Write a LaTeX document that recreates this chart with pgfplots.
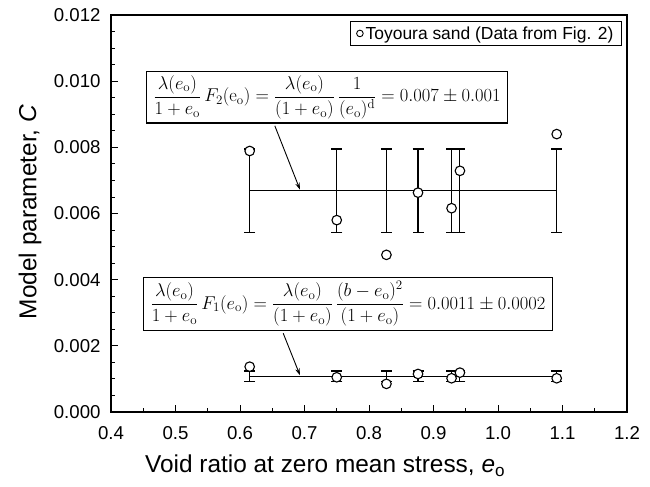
\RequirePackage{fix-cm}
\documentclass[border=0pt]{standalone}
\usepackage{amsmath}
\usepackage[no-math]{fontspec}
\setmainfont{Liberation Sans}
\usepackage{pgfplots}
\pgfplotsset{compat=1.18}
\usetikzlibrary{arrows.meta}

\newcommand{\eo}{e_{\mathrm{o}}}

\begin{document}
\begin{tikzpicture}
\path[use as bounding box] (-111bp,-75bp) rectangle (539bp,412bp);
\begin{axis}[
  at={(0,0)}, anchor=south west,
  scale only axis, width=516bp, height=397bp,
  xmin=0.4, xmax=1.2, ymin=0, ymax=0.012,
  xtick={0.4,0.5,0.6,0.7,0.8,0.9,1.0,1.1,1.2},
  ytick={0,0.002,0.004,0.006,0.008,0.010,0.012},
  minor x tick num=1, minor y tick num=3,
  scaled y ticks=false, scaled x ticks=false,
  tick pos=left, tick align=inside,
  major tick length=7bp, minor tick length=4bp,
  every tick/.style={black, line width=0.9bp},
  axis line style={line width=1.6bp},
  ticklabel style={font=\fontsize{18.7}{22}\selectfont},
  x tick label style={yshift=-11bp, /pgf/number format/.cd, fixed, fixed zerofill, precision=1, assume math mode=true},
  y tick label style={xshift=-7bp, /pgf/number format/.cd, fixed, fixed zerofill, precision=3, assume math mode=true},
  xlabel={Void ratio at zero mean stress, \textit{e}\textsubscript{o}},
  ylabel={Model parameter, \textit{C}},
  label style={font=\fontsize{24.5}{28}\selectfont},
  xlabel style={at={(axis description cs:0.415,-0.135)}, anchor=center},
  ylabel style={at={(axis description cs:-0.157,0.504)}, anchor=center},
  legend style={at={(axis description cs:0.99,0.985)}, anchor=north east,
    font=\fontsize{17.5}{21}\selectfont, draw=black, line width=0.9bp,
    inner xsep=6bp, inner ysep=3bp},
  legend cell align=left,
]
% Mean of C for F2, with scatter band
\addplot[black, line width=1.1bp, mark=none, forget plot,
  error bars/.cd, y dir=both, y explicit,
  error bar style={line width=1.1bp},
  error mark options={rotate=90, mark size=5.5bp, line width=1.1bp}]
  coordinates {
  (0.615,0.00669) +- (0,0.00126)
  (0.750,0.00669) +- (0,0.00126)
  (0.827,0.00669) +- (0,0.00126)
  (0.876,0.00669) +- (0,0.00126)
  (0.928,0.00669) +- (0,0.00126)
  (0.941,0.00669) +- (0,0.00126)
  (1.091,0.00669) +- (0,0.00126)
  };
% Mean of C for F1, with scatter band
\addplot[black, line width=1.1bp, mark=none, forget plot,
  error bars/.cd, y dir=both, y explicit,
  error bar style={line width=1.1bp},
  error mark options={rotate=90, mark size=5.5bp, line width=1.1bp}]
  coordinates {
  (0.615,0.00108) +- (0,0.00016)
  (0.750,0.00108) +- (0,0.00016)
  (0.827,0.00108) +- (0,0.00016)
  (0.876,0.00108) +- (0,0.00016)
  (0.928,0.00108) +- (0,0.00016)
  (0.941,0.00108) +- (0,0.00016)
  (1.091,0.00108) +- (0,0.00016)
  };
% Toyoura sand, F2 form
\addplot[only marks, mark=*, mark size=4.8bp,
  mark options={fill=white, draw=black, line width=1.1bp},
  legend image code/.code={\draw[black, fill=white, line width=0.9bp] (0.2cm,0cm) circle (3.3bp);}]
  coordinates {
  (0.615,0.00789) (0.750,0.00580) (0.827,0.00475) (0.876,0.00663)
  (0.928,0.00616) (0.941,0.00729) (1.091,0.00840)
  };
\addlegendentry{Toyoura sand (Data from Fig. 2)}
% Toyoura sand, F1 form
\addplot[only marks, mark=*, mark size=4.8bp, forget plot,
  mark options={fill=white, draw=black, line width=1.1bp}]
  coordinates {
  (0.615,0.00137) (0.750,0.00105) (0.827,0.00085) (0.876,0.00115)
  (0.928,0.00102) (0.941,0.00119) (1.091,0.00102)
  };
% Formula boxes and leaders
\node[draw=black, line width=1.3bp, fill=white, inner xsep=7bp, inner ysep=4bp,
  font=\fontsize{18.6}{22}\selectfont] at (axis cs:0.735,0.00952)
  {$\dfrac{\lambda(\eo)}{1+\eo}\,F_2(\mathrm{e}_{\mathrm{o}})=\dfrac{\lambda(\eo)}{(1+\eo)}\,\dfrac{1}{(\eo)^{\mathrm{d}}}=0.007\pm0.001$};
\node[draw=black, line width=1.3bp, fill=white, inner xsep=7bp, inner ysep=4bp,
  font=\fontsize{18.6}{22}\selectfont] at (axis cs:0.7674,0.003265)
  {$\dfrac{\lambda(\eo)}{1+\eo}\,F_1(\eo)=\dfrac{\lambda(\eo)}{(1+\eo)}\,\dfrac{(b-\eo)^2}{(1+\eo)}=0.0011\pm0.0002$};
\draw[-{Stealth[length=7bp,width=4.5bp]}, line width=0.9bp]
  (axis cs:0.654,0.00865) -- (axis cs:0.693,0.00672);
\draw[-{Stealth[length=7bp,width=4.5bp]}, line width=0.9bp]
  (axis cs:0.667,0.00238) -- (axis cs:0.693,0.00111);
\end{axis}
\end{tikzpicture}
\end{document}
